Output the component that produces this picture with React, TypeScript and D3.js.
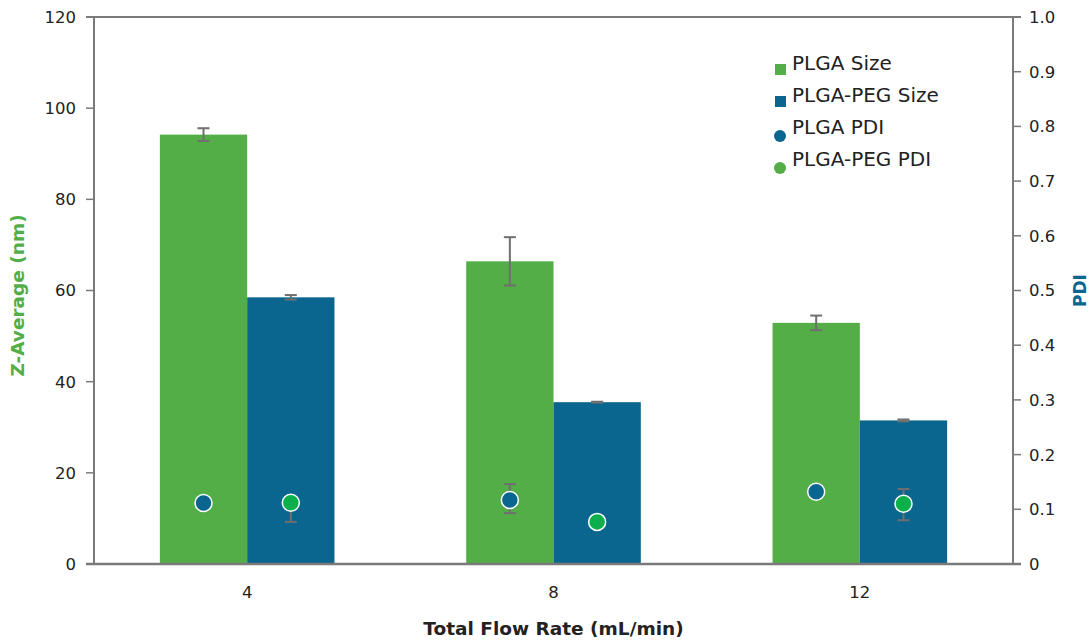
import React from "react";
import * as d3 from "d3";

const categories = ["4", "8", "12"];
const sizeSeries = ["PLGA Size", "PLGA-PEG Size"];
const plgaSize = [94.2, 66.4, 52.9];
const plgaSizeErr = [1.4, 5.3, 1.6];
const pegSize = [58.5, 35.5, 31.5];
const pegSizeErr = [0.5, 0.1, 0.2];
const plgaPdi = [0.1115, 0.117, 0.132];
const plgaPdiPlus = [0, 0.029, 0];
const plgaPdiMinus = [0, 0.024, 0];
const pegPdi = [0.112, 0.077, 0.11];
const pegPdiPlus = [0, 0, 0.027];
const pegPdiMinus = [0.035, 0, 0.03];
const leftTicks = [0, 20, 40, 60, 80, 100, 120];
const rightTicks = [0, 0.1, 0.2, 0.3, 0.4, 0.5, 0.6, 0.7, 0.8, 0.9, 1.0];
const legendLabels = ["PLGA Size", "PLGA-PEG Size", "PLGA PDI", "PLGA-PEG PDI"];

const W = 1091, H = 641;
const M = { left: 94, right: 78, top: 17, bottom: 77 };
const GREEN = "#53ae47";
const BLUE = "#0b668f";
const PDI_GREEN = "#0bb04a";
const AXIS = "#7a7a7a";
const ERR = "#6f6f6f";
const FONT = "'DejaVu Sans', sans-serif";

export default function App() {
  const x0 = M.left, x1 = W - M.right, yTop = M.top, yBot = H - M.bottom;
  const x = d3.scaleBand().domain(categories).range([x0, x1]).padding(0);
  const bw = x.bandwidth();
  const xs = d3.scaleBand().domain(sizeSeries).range([bw * 0.215, bw * 0.785]).padding(0);
  const sw = xs.bandwidth();
  const yL = d3.scaleLinear().domain([0, 120]).range([yBot, yTop]);
  const yR = d3.scaleLinear().domain([0, 1]).range([yBot, yTop]);

  const sizeData = [
    { key: sizeSeries[0], vals: plgaSize, errs: plgaSizeErr, color: GREEN },
    { key: sizeSeries[1], vals: pegSize, errs: pegSizeErr, color: BLUE },
  ];
  const pdiData = [
    { key: sizeSeries[0], vals: plgaPdi, plus: plgaPdiPlus, minus: plgaPdiMinus, color: BLUE },
    { key: sizeSeries[1], vals: pegPdi, plus: pegPdiPlus, minus: pegPdiMinus, color: PDI_GREEN },
  ];
  const capW = 6;
  const fmtR = (v: number) => (v === 0 ? "0" : d3.format(".1f")(v));

  return (
    <svg width={W} height={H} style={{ position: "absolute", left: 0, top: 0, background: "#fff" }} fontFamily={FONT}>
      {/* bars */}
      {sizeData.map((s) =>
        categories.map((c, i) => (
          <rect key={s.key + c} x={(x(c) as number) + (xs(s.key) as number)} y={yL(s.vals[i])}
            width={sw} height={yBot - yL(s.vals[i])} fill={s.color} />
        ))
      )}
      {/* bar error bars */}
      {sizeData.map((s) =>
        categories.map((c, i) => {
          const cx = (x(c) as number) + (xs(s.key) as number) + sw / 2;
          const hi = yL(s.vals[i] + s.errs[i]);
          const lo = yL(s.vals[i] - s.errs[i]);
          return (
            <g key={"e" + s.key + c} stroke={ERR} strokeWidth={2}>
              <line x1={cx} x2={cx} y1={hi} y2={lo} />
              <line x1={cx - capW} x2={cx + capW} y1={hi} y2={hi} />
              <line x1={cx - capW} x2={cx + capW} y1={lo} y2={lo} />
            </g>
          );
        })
      )}
      {/* PDI error bars */}
      {pdiData.map((s) =>
        categories.map((c, i) => {
          const cx = (x(c) as number) + (xs(s.key) as number) + sw / 2;
          const cy = yR(s.vals[i]);
          const hi = yR(s.vals[i] + s.plus[i]);
          const lo = yR(s.vals[i] - s.minus[i]);
          return (
            <g key={"pe" + s.key + c} stroke={ERR} strokeWidth={2}>
              {s.plus[i] > 0 && <line x1={cx} x2={cx} y1={cy} y2={hi} />}
              {s.plus[i] > 0 && <line x1={cx - capW} x2={cx + capW} y1={hi} y2={hi} />}
              {s.minus[i] > 0 && <line x1={cx} x2={cx} y1={cy} y2={lo} />}
              {s.minus[i] > 0 && <line x1={cx - capW} x2={cx + capW} y1={lo} y2={lo} />}
            </g>
          );
        })
      )}
      {/* PDI markers */}
      {pdiData.map((s) =>
        categories.map((c, i) => (
          <circle key={"p" + s.key + c} cx={(x(c) as number) + (xs(s.key) as number) + sw / 2}
            cy={yR(s.vals[i])} r={8.5} fill={s.color} stroke="#fff" strokeWidth={1.5} />
        ))
      )}

      {/* frame */}
      <line x1={x0 - 8} x2={x1 + 8} y1={yTop} y2={yTop} stroke={AXIS} strokeWidth={2} />
      <line x1={x0} x2={x0} y1={yTop} y2={yBot} stroke={AXIS} strokeWidth={2} />
      <line x1={x1} x2={x1} y1={yTop} y2={yBot} stroke={AXIS} strokeWidth={2} />
      <line x1={x0 - 8} x2={x1 + 8} y1={yBot} y2={yBot} stroke={AXIS} strokeWidth={2.5} />

      {/* left ticks */}
      {leftTicks.map((t) => (
        <g key={"l" + t}>
          <line x1={x0 - 8} x2={x0} y1={yL(t)} y2={yL(t)} stroke={AXIS} strokeWidth={1.5} />
          <text x={x0 - 18} y={yL(t)} dy="0.36em" textAnchor="end" fontSize={16.5} fill="#222">{t}</text>
        </g>
      ))}
      {/* right ticks */}
      {rightTicks.map((t) => (
        <g key={"r" + t}>
          <line x1={x1} x2={x1 + 8} y1={yR(t)} y2={yR(t)} stroke={AXIS} strokeWidth={1.5} />
          <text x={x1 + 16} y={yR(t)} dy="0.36em" textAnchor="start" fontSize={16.5} fill="#222">{fmtR(t)}</text>
        </g>
      ))}
      {/* category labels */}
      {categories.map((c) => (
        <text key={"c" + c} x={(x(c) as number) + bw / 2} y={yBot + 34} textAnchor="middle" fontSize={16.5} fill="#222">{c}</text>
      ))}

      {/* axis titles */}
      <text x={(x0 + x1) / 2} y={H - 6} textAnchor="middle" fontSize={18.5} fontWeight="bold" fill="#222">Total Flow Rate (mL/min)</text>
      <text transform={`translate(24,${(yTop + yBot) / 2 + 5}) rotate(-90)`} textAnchor="middle" fontSize={18.5} fontWeight="bold" fill={GREEN}>Z-Average (nm)</text>
      <text transform={`translate(1086,${(yTop + yBot) / 2}) rotate(-90)`} textAnchor="middle" fontSize={17} fontWeight="bold" fill={BLUE}>PDI</text>

      {/* legend */}
      {legendLabels.map((l, i) => {
        const ty = 63 + i * 32;
        return (
          <g key={"lg" + l}>
            {i < 2 ? (
              <rect x={775} y={ty + 1} width={11} height={11} fill={i === 0 ? GREEN : BLUE} />
            ) : (
              <circle cx={780} cy={ty + 9} r={6} fill={i === 2 ? BLUE : GREEN} />
            )}
            <text x={792} y={ty} dy="0.36em" fontSize={20} fill="#222">{l}</text>
          </g>
        );
      })}
    </svg>
  );
}
